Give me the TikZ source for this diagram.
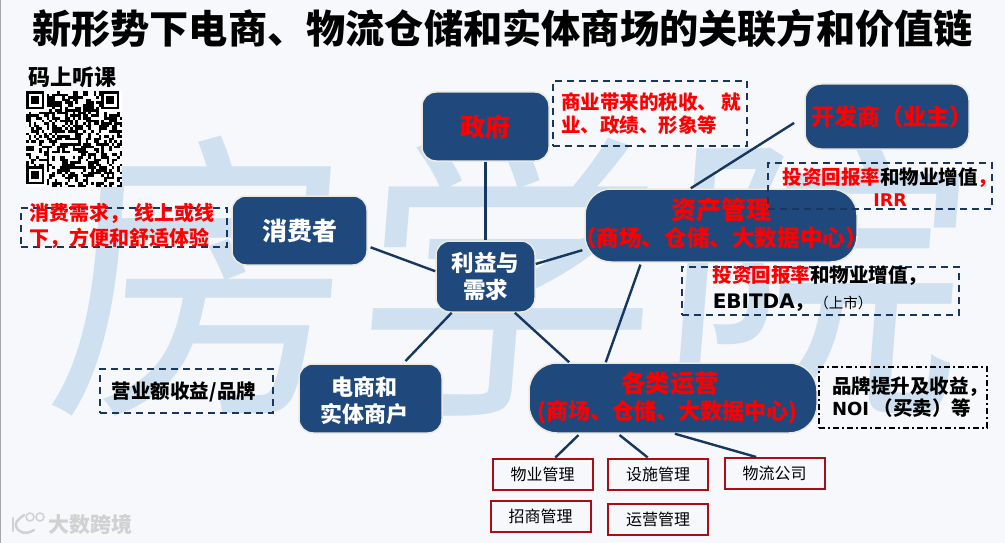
\documentclass[tikz,border=0pt]{standalone}
\usepackage{fontspec}
\usepackage{xcolor}
\setmainfont{Noto Sans CJK SC}
\newfontfamily\latinfont{DejaVu Sans}
\definecolor{navy}{HTML}{1F497D}
\definecolor{linkblue}{HTML}{17375E}
\definecolor{halo}{HTML}{ECEAE0}
\definecolor{boxred}{HTML}{A80F14}
\definecolor{washblue}{HTML}{CFE1F0}
\definecolor{paper}{HTML}{F6F8FB}
\newcommand{\lat}[1]{{\latinfont #1}}
\tikzset{
  bluebox/.style={fill=navy,draw=halo,line width=1.5pt,rounded corners=14pt,inner sep=0pt,align=center},
  notebox/.style={draw=linkblue,line width=1.5pt,dash pattern=on 7pt off 5pt,inner sep=0pt},
  redbox/.style={draw=boxred,line width=2pt,inner sep=0pt,minimum width=100pt,minimum height=31pt,font=\fontsize{16}{18}\selectfont},
  link/.style={draw=linkblue,line width=2.4pt},
  whitetxt/.style={text=white,font=\bfseries\fontsize{22.5}{27}\selectfont},
  redtxt/.style={text=red,font=\bfseries\fontsize{22.6}{28}\selectfont,inner sep=0pt,align=center},
  notetxt/.style={font=\bfseries\fontsize{19.5}{24}\selectfont,inner sep=0pt}
}
\begin{document}
\begin{tikzpicture}[x=1pt,y=-1pt]
  \useasboundingbox (0,0) rectangle (1005,543);
  % Background and the big wash behind everything
  \fill[paper] (0,0) rectangle (1005,543);
  \draw[gray!70,line width=1pt] (0.5,0) -- (0.5,543);
  \node[text=washblue,inner sep=0pt,font=\fontsize{305}{305}\selectfont,xslant=0.08] (wash) at (510,275) {房学院};
  % Title
  \node[inner sep=0pt,font=\bfseries\fontsize{39.2}{39.2}\selectfont] (title) at (502.5,29) {新形势下电商、物流仓储和实体商场的关联方和价值链};
  % QR code with its caption
  \node[inner sep=0pt,font=\bfseries\fontsize{22}{22}\selectfont] (qrcap) at (72,77) {码上听课};
  \fill[white] (26,91) rectangle (122,187);
  \pgfmathsetseed{11}
  \foreach \qx in {0,...,36} {
    \foreach \qy in {0,...,36} {
      \pgfmathrandominteger{\qbit}{0}{1}
      \ifnum\qbit=1 \fill[black] ({26+\qx*2.6},{91+\qy*2.6}) rectangle +(2.6,2.6); \fi
    }
  }
  \foreach \fx/\fy in {26/91,101.2/91,26/166.2} {
    \fill[white] (\fx,\fy) rectangle +(20.8,20.8);
    \fill[black] (\fx,\fy) rectangle +(18.2,18.2);
    \fill[white] ({\fx+2.6},{\fy+2.6}) rectangle +(13,13);
    \fill[black] ({\fx+5.2},{\fy+5.2}) rectangle +(7.8,7.8);
  }
  % Blue boxes
  \node[bluebox,whitetxt,minimum width=99pt,minimum height=71pt] (hub) at (485.5,276.5) {利益与\\需求};
  \node[bluebox,minimum width=127pt,minimum height=69pt] (gov) at (485.5,126.5) {\textcolor{red}{\bfseries\fontsize{25}{25}\selectfont 政府}};
  \node[bluebox,whitetxt,minimum width=135pt,minimum height=69pt,font=\bfseries\fontsize{25}{25}\selectfont] (consumer) at (299.5,230.5) {消费者};
  \node[bluebox,minimum width=164pt,minimum height=65pt,rounded corners=16pt] (developer) at (887,116.5) {};
  \node[bluebox,minimum width=272pt,minimum height=73pt,rounded corners=26pt] (asset) at (721,225.5) {};
  \node[bluebox,minimum width=143pt,minimum height=69pt] (merchant) at (370.5,398.5) {};
  \node[bluebox,minimum width=288pt,minimum height=70pt,rounded corners=28pt] (ops) at (673,398) {};
  % Texts set over their boxes
  \node[redtxt,font=\bfseries\fontsize{23}{25}\selectfont] (developertxt) at (892,117) {开发商（业主）};
  \node[redtxt,font=\bfseries\fontsize{25}{25}\selectfont] (assethead) at (721,210) {资产管理};
  \node[redtxt] (assetsub) at (721,238) {（商场、仓储、大数据中心）};
  \node[redtxt,font=\bfseries\fontsize{24.5}{25}\selectfont] (opshead) at (670,383) {各类运营};
  \node[redtxt,font=\bfseries\fontsize{22}{28}\selectfont] (opssub) at (667,412) {(商场、仓储、大数据中心)};
  \node[whitetxt,inner sep=0pt,align=center,font=\bfseries\fontsize{22}{27}\selectfont] (merchanttxt) at (364,400.5) {电商和\\实体商户};
  % Red boxes
  \node[redbox] (pm) at (542.5,474) {物业管理};
  \node[redbox] (facility) at (658,474) {设施管理};
  \node[redbox] (logistics) at (774.5,473.5) {物流公司};
  \node[redbox] (leasing) at (540.5,516.5) {招商管理};
  \node[redbox] (running) at (658,519.5) {运营管理};
  % Connectors
  \draw[link] (gov.south) -- (hub.north);
  \draw[link,shorten <=3pt] (consumer.-13.7) -- (hub.174);
  \draw[link,shorten <=2pt] (asset.190.8) -- (hub.14.2);
  \draw[link,shorten <=3pt] (merchant.47.6) -- (hub.227.5);
  \draw[link] (hub.-51) -- (ops.161.7);
  \draw[link,shorten <=2pt] (asset.205.9) -- (ops.152.4);
  \draw[link,shorten <=12pt] (developer.west) -- (asset.129);
  \draw[link,shorten <=2pt] (ops.201.3) -- (pm.52);
  \draw[link,shorten <=2pt] (ops.213) -- (facility.122);
  \draw[link] (ops.-87) -- (logistics.138);
  % Dashed notes
  \node[notebox,minimum width=206pt,minimum height=39pt] (consumernote) at (124,227.5) {};
  \node[notetxt,text=red,align=left,font=\bfseries\fontsize{20}{25}\selectfont] (consumertxt) at (122,226) {消费需求， 线上或线\\下，方便和舒适体验};
  \node[notebox,minimum width=194pt,minimum height=65pt] (govnote) at (650,113.5) {};
  \node[notetxt,text=red,align=left,font=\bfseries\fontsize{19.5}{23}\selectfont] (govtxt) at (651,113.5) {商业带来的税收、 就\\业、政绩、形象等};
  \node[notebox,minimum width=224pt,minimum height=46pt] (devnote) at (880,186) {};
  \node[notetxt,align=center,font=\bfseries\fontsize{19.5}{22}\selectfont] (devtxt) at (890,187) {\textcolor{red}{投资回报率}和物业增值\textcolor{red}{，}\\\textcolor{red}{\lat{\fontsize{17.5}{22}\selectfont IRR}}};
  \node[notebox,minimum width=277pt,minimum height=48pt] (assetnote) at (820.5,291) {};
  \node[notetxt,align=left,font=\bfseries\fontsize{19.5}{26}\selectfont] (assettxt) at (820,289) {\textcolor{red}{投资回报率}和物业增值，\\\lat{\fontsize{20}{26}\selectfont EBITDA}，{\mdseries\fontsize{14.5}{26}\selectfont （上市）}};
  \node[notebox,minimum width=173pt,minimum height=44pt] (merchantnote) at (186.5,391) {};
  \node[notetxt] (merchantnotetxt) at (184,392) {营业额收益/品牌};
  \node[notebox,draw=black,dash pattern=on 6pt off 3pt on 2pt off 3pt,minimum width=168pt,minimum height=61pt] (opsnote) at (903,397.5) {};
  \node[notetxt,align=left,font=\bfseries\fontsize{19.5}{22}\selectfont] (opstxt) at (910,397) {品牌提升及收益，\\\lat{\fontsize{18}{22}\selectfont NOI} （买卖）等};
  % Corner mark
  \node[inner sep=0pt,text=black!18,font=\bfseries\fontsize{21}{21}\selectfont] (marktxt) at (90.5,524) {大数跨境};
  \draw[black!18,line width=2.5pt,line cap=round] (13,518) -- (13,531);
  \draw[black!18,line width=2.5pt,line cap=round] (24,515) .. controls (17,520) and (15,523) .. (16,526) .. controls (18,533) and (26,535) .. (34,530);
  \draw[black!18,line width=1.5pt] (30,517) circle (4) (40,517) circle (4);
\end{tikzpicture}
\end{document}
